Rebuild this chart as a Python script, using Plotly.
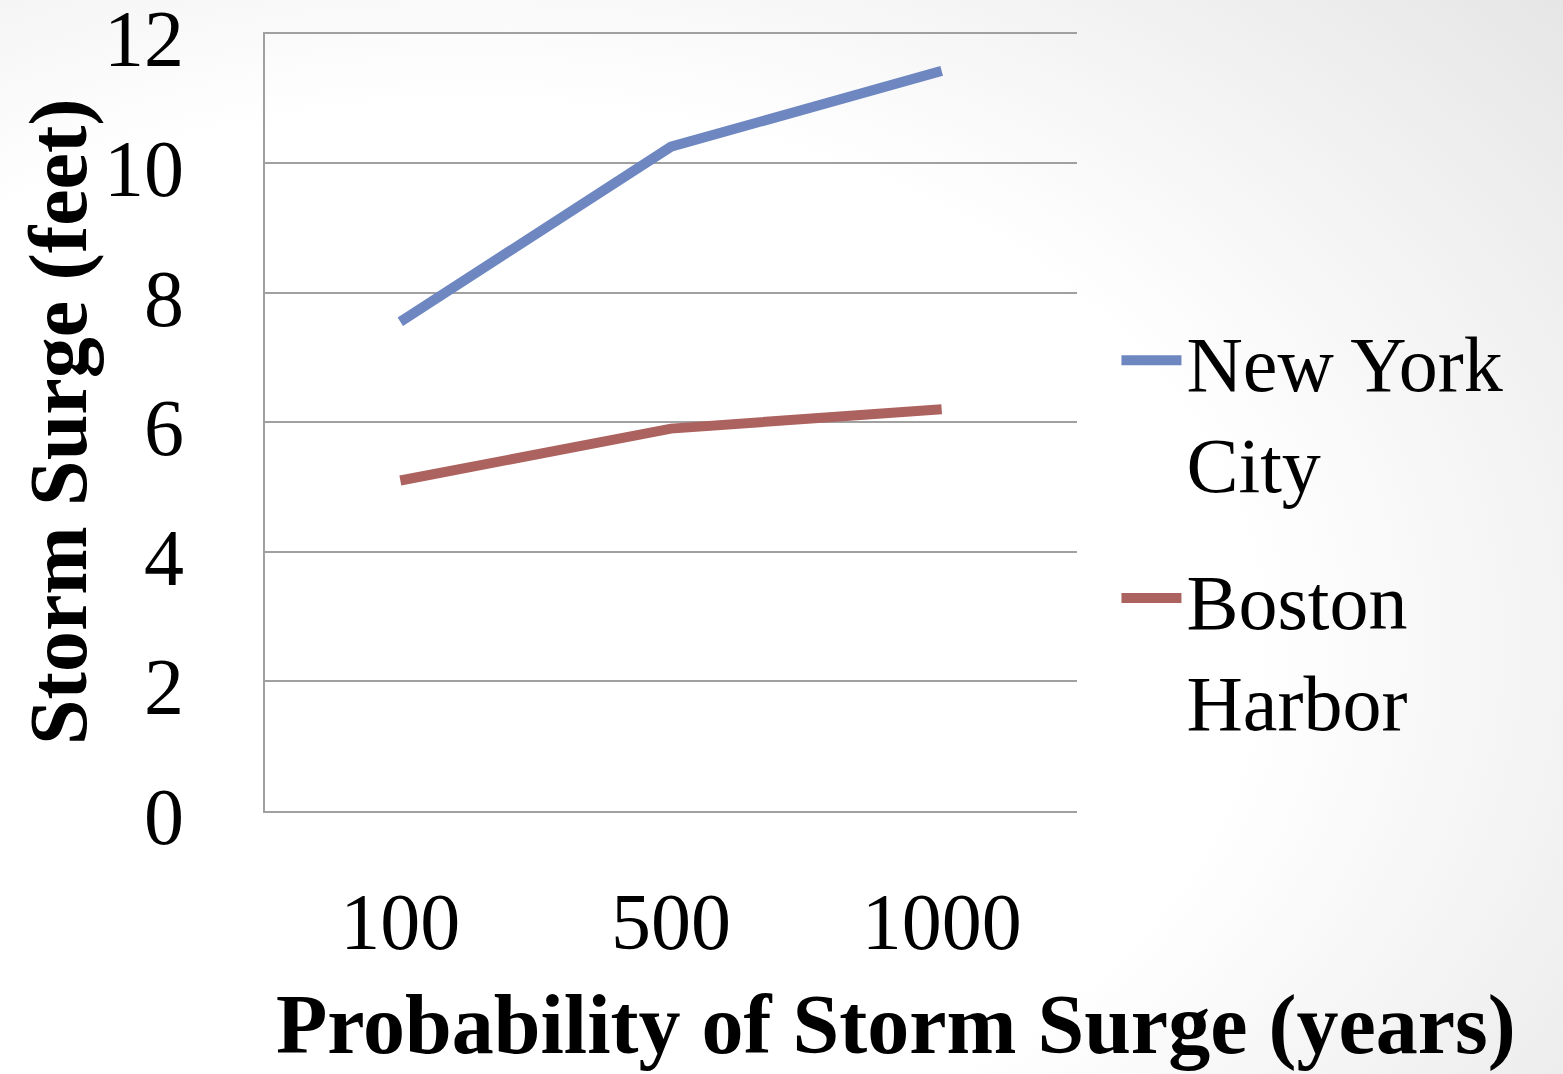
import plotly.graph_objects as go
import base64

categories = ["100", "500", "1000"]
nyc = [7.55, 10.25, 11.42]
boston = [5.1, 5.9, 6.2]
y_ticks = [0, 2, 4, 6, 8, 10, 12]

FONT = "Liberation Serif"

W, H = 1563, 1074
ML, MR, MT, MB = 265, 486, 32, 263
PW, PH = W - ML - MR, H - MT - MB

svg = ('<svg xmlns="http://www.w3.org/2000/svg" width="1563" height="1074" viewBox="0 0 1563 1074" preserveAspectRatio="none">'
       '<defs><radialGradient id="g" cx="0.3" cy="0.6" r="1">'
       '<stop offset="0.5" stop-color="#ffffff"/><stop offset="0.95" stop-color="#e4e4e4"/>'
       '</radialGradient></defs><rect width="1563" height="1074" fill="url(#g)"/></svg>')
bg_uri = "data:image/svg+xml;base64," + base64.b64encode(svg.encode()).decode()

fig = go.Figure()
fig.add_trace(go.Scatter(x=categories, y=nyc, mode="lines", name="New York<br>City",
                         line=dict(color="#6E87C1", width=10), legendgroup="a"))
fig.add_trace(go.Scatter(x=categories, y=boston, mode="lines", name="Boston<br>Harbor",
                         line=dict(color="#AC625E", width=10), legendgroup="b"))

fig.update_layout(
    width=W, height=H,
    margin=dict(l=ML, r=MR, t=MT, b=MB, autoexpand=False),
    paper_bgcolor="white", plot_bgcolor="rgba(0,0,0,0)",
    font=dict(family=FONT, color="black", size=80),
    images=[dict(source=bg_uri, xref="paper", yref="paper", x=-ML / PW, y=1 + MT / PH,
                 sizex=W / PW, sizey=H / PH, sizing="stretch", layer="below",
                 xanchor="left", yanchor="top")],
    showlegend=True,
    legend=dict(x=1.0486, y=0.652, xanchor="left", yanchor="top", valign="top",
                font=dict(family=FONT, size=78), traceorder="grouped",
                tracegroupgap=32, itemwidth=60, bgcolor="rgba(0,0,0,0)"),
    xaxis=dict(type="category", range=[-0.5, 2.5], showgrid=False, showline=True,
               linecolor="#A0A0A0", linewidth=2, ticks="", ticklabelstandoff=40,
               automargin=False, tickfont=dict(family=FONT, size=80)),
    yaxis=dict(range=[0, 12.02], tickvals=y_ticks, showgrid=True, gridcolor="#A0A0A0",
               gridwidth=2, showline=True, linecolor="#A0A0A0", linewidth=2,
               zeroline=False, ticks="", ticklabelstandoff=63, ticklabelshift=5,
               ticklabeloverflow="allow", automargin=False,
               tickfont=dict(family=FONT, size=80)),
    annotations=[
        dict(text="<b>Probability of Storm Surge (years)</b>", xref="paper", yref="paper",
             x=(896 - ML) / PW, y=-(1025 - (MT + PH)) / PH, xanchor="center", yanchor="middle",
             showarrow=False, font=dict(family=FONT, size=84)),
        dict(text="<b>Storm Surge (feet)</b>", xref="paper", yref="paper",
             x=-(ML - 58) / PW, y=(MT + PH - 422) / PH, xanchor="center", yanchor="middle",
             textangle=-90, showarrow=False, font=dict(family=FONT, size=82)),
    ],
)

fig.write_html("out.html", config={"displayModeBar": False},
               post_script="document.body.style.margin='0';document.body.style.overflow='hidden';")
